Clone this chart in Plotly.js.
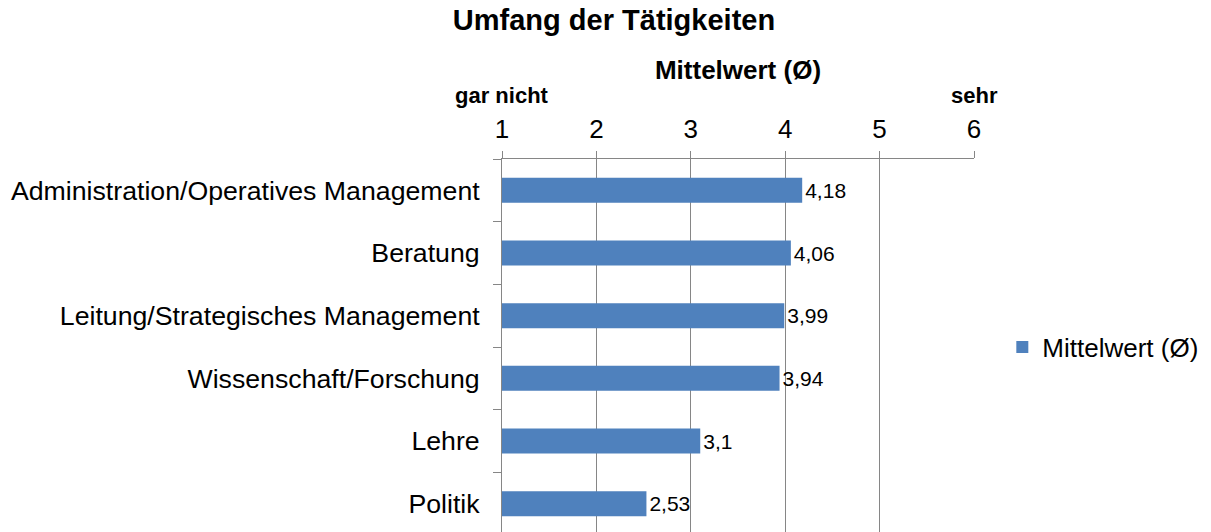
<!DOCTYPE html>
<html>
<head>
<meta charset="utf-8">
<script src="https://cdn.plot.ly/plotly-3.0.1.min.js"></script>
<style>
html,body{margin:0;padding:0;overflow:hidden;background:#fff;}
#chart{width:1211px;height:540px;}
</style>
</head>
<body>
<div id="chart"></div>
<script>
const categories = [
  "Administration/Operatives Management",
  "Beratung",
  "Leitung/Strategisches Management",
  "Wissenschaft/Forschung",
  "Lehre",
  "Politik"
];
const values = [4.18, 4.06, 3.99, 3.94, 3.1, 2.53];
const valueLabels = ["4,18", "4,06", "3,99", "3,94", "3,1", "2,53"];
const seriesName = "Mittelwert (Ø)";
const tickValues = [1, 2, 3, 4, 5, 6];
const tickLabels = ["1", "2", "3", "4", "5", "6"];
const endLabels = [{x: 1, text: "gar nicht"}, {x: 6, text: "sehr"}];

const FONT = "Liberation Sans, Arial, sans-serif";
const GRAY = "#868686";

const trace = {
  type: "bar",
  orientation: "h",
  x: values,
  y: categories,
  name: seriesName,
  text: valueLabels,
  textposition: "outside",
  cliponaxis: false,
  textfont: {family: FONT, size: 21, color: "#000"},
  marker: {color: "#4F81BD", line: {width: 0}},
  showlegend: true,
  hoverinfo: "x+y"
};

const layout = {
  width: 1211,
  height: 540,
  margin: {l: 502, r: 237, t: 159, b: 5, pad: 0},
  paper_bgcolor: "#fff",
  plot_bgcolor: "#fff",
  font: {family: FONT, color: "#000"},
  bargap: 0.6,
  title: {
    text: "<b>Umfang der Tätigkeiten</b>",
    font: {family: FONT, size: 29, color: "#000"},
    x: 614 / 1211, xref: "container", xanchor: "center",
    y: 1 - 20 / 540, yref: "container", yanchor: "middle"
  },
  xaxis: {
    side: "top",
    range: [1, 6],
    tickvals: tickValues,
    ticktext: tickLabels,
    showgrid: true,
    gridcolor: GRAY,
    gridwidth: 1,
    zeroline: false,
    showline: true,
    linecolor: GRAY,
    linewidth: 1,
    ticks: "outside",
    ticklen: 7,
    tickcolor: GRAY,
    tickfont: {family: FONT, size: 26, color: "#000"},
    ticklabelstandoff: 3,
    title: {
      text: "<b>Mittelwert (Ø)</b>",
      font: {family: FONT, size: 26, color: "#000"},
      standoff: 26
    },
    fixedrange: true
  },
  yaxis: {
    type: "category",
    autorange: "reversed",
    showgrid: false,
    zeroline: false,
    showline: true,
    linecolor: GRAY,
    linewidth: 1,
    ticks: "outside",
    tickson: "boundaries",
    ticklen: 8,
    tickcolor: GRAY,
    tickfont: {family: FONT, size: 26.7, color: "#000"},
    ticklabelstandoff: 16,
    fixedrange: true
  },
  legend: {
    x: 1.06, xanchor: "left",
    y: 0.5, yanchor: "middle",
    font: {family: FONT, size: 26, color: "#000"},
    bgcolor: "rgba(0,0,0,0)",
    itemwidth: 30
  },
  annotations: endLabels.map(e => ({
    x: e.x, xref: "x",
    y: 1 + (159 - 96) / 376, yref: "paper",
    text: "<b>" + e.text + "</b>",
    showarrow: false,
    xanchor: "center", yanchor: "middle",
    font: {family: FONT, size: 22, color: "#000"}
  }))
};

Plotly.newPlot("chart", [trace], layout, {displayModeBar: false, staticPlot: true});
</script>
</body>
</html>
